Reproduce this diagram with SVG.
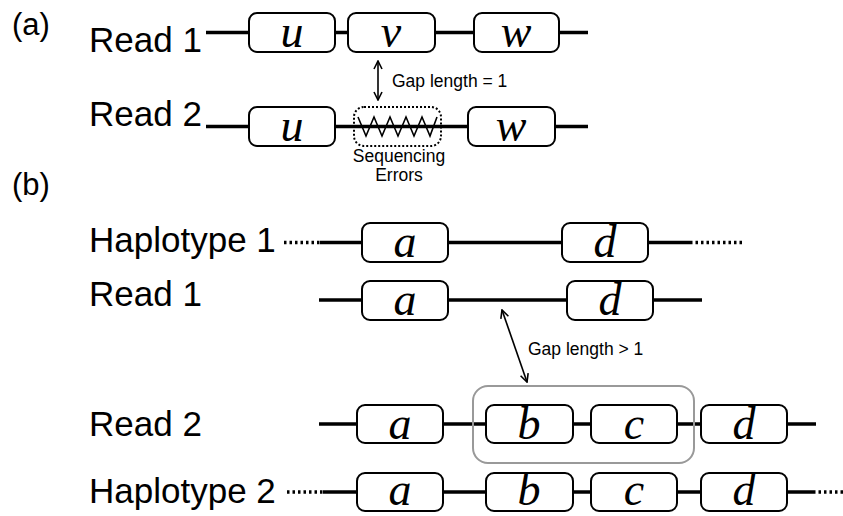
<svg xmlns="http://www.w3.org/2000/svg" width="843" height="516" viewBox="0 0 843 516">
  <style>
    .lbl { font-family: "Liberation Sans", Arial, sans-serif; fill: #000; }
    .big { font-size: 35px; }
    .panel { font-size: 31px; }
    .small { font-size: 17.5px; }
    .sym { font-family: "Liberation Serif", "Times New Roman", serif; font-style: italic; font-size: 46px; fill: #000; text-anchor: middle; }
    .seg { fill: #fff; stroke: #000; stroke-width: 2; }
    .wire { stroke: #000; stroke-width: 3.5; fill: none; }
    .dots { stroke: #000; stroke-width: 3.5; fill: none; stroke-dasharray: 2.5 3; }
    .thin { stroke: #000; stroke-width: 1.6; fill: none; }
  </style>
  <defs>
    <marker id="head" viewBox="0 0 10 10" refX="9" refY="5" markerWidth="10" markerHeight="10" markerUnits="userSpaceOnUse" orient="auto-start-reverse">
      <path d="M1,1 L9,5 L1,9" fill="none" stroke="#000" stroke-width="1.6"/>
    </marker>
  </defs>

  <rect width="843" height="516" fill="#fff"/>

  <!-- panel labels -->
  <text class="lbl panel" x="12" y="35">(a)</text>
  <text class="lbl panel" x="12" y="195">(b)</text>

  <!-- row labels -->
  <text class="lbl big" x="89" y="52">Read 1</text>
  <text class="lbl big" x="89" y="126">Read 2</text>
  <text class="lbl big" x="89" y="252">Haplotype 1</text>
  <text class="lbl big" x="89" y="306">Read 1</text>
  <text class="lbl big" x="89" y="436">Read 2</text>
  <text class="lbl big" x="89" y="503">Haplotype 2</text>

  <!-- connectors: backbone lines, gap arrows -->
  <g id="connectors">
    <!-- (a) Read 1 -->
    <line class="wire" x1="206" y1="32.5" x2="588" y2="32.5"/>
    <!-- (a) Read 2 -->
    <line class="wire" x1="206" y1="126.5" x2="588" y2="126.5"/>
    <!-- (b) Haplotype 1 -->
    <line class="dots" x1="284" y1="242.5" x2="322" y2="242.5"/>
    <line class="wire" x1="320" y1="242.5" x2="690" y2="242.5"/>
    <line class="dots" x1="690" y1="242.5" x2="742" y2="242.5"/>
    <!-- (b) Read 1 -->
    <line class="wire" x1="319" y1="300" x2="702" y2="300"/>
    <!-- (b) Read 2 -->
    <line class="wire" x1="319" y1="424" x2="816" y2="424"/>
    <!-- (b) Haplotype 2 -->
    <line class="dots" x1="287" y1="492" x2="325" y2="492"/>
    <line class="wire" x1="323" y1="492" x2="813" y2="492"/>
    <line class="dots" x1="813" y1="492" x2="843" y2="492"/>

    <!-- gap arrows -->
    <line class="thin" x1="378" y1="61" x2="378" y2="100" marker-start="url(#head)" marker-end="url(#head)"/>
    <line class="thin" x1="502" y1="310" x2="527" y2="382" marker-start="url(#head)" marker-end="url(#head)"/>
  </g>

  <!-- (a) Read 1 segments -->
  <g id="a-r1-u"><rect class="seg" x="249" y="13" width="86" height="39" rx="8"/><text class="sym" x="292" y="47">u</text></g>
  <g id="a-r1-v"><rect class="seg" x="348" y="13" width="87" height="39" rx="8"/><text class="sym" x="391" y="47">v</text></g>
  <g id="a-r1-w"><rect class="seg" x="474" y="13" width="85" height="39" rx="8"/><text class="sym" x="516" y="47">w</text></g>

  <!-- (a) Read 2 segments -->
  <g id="a-r2-u"><rect class="seg" x="249" y="107" width="86" height="39" rx="8"/><text class="sym" x="292" y="141">u</text></g>
  <g id="a-r2-err">
    <rect x="354" y="107" width="87" height="39" rx="10" fill="none" stroke="#000" stroke-width="2" stroke-dasharray="2 2"/>
    <path class="thin" d="M358,117 L366,136 L374,117 L382,136 L390,117 L398,136 L406,117 L414,136 L422,117 L430,136 L437,117"/>
    <text class="lbl small" x="399" y="162" text-anchor="middle">Sequencing</text>
    <text class="lbl small" x="399" y="181" text-anchor="middle">Errors</text>
  </g>
  <g id="a-r2-w"><rect class="seg" x="468" y="107" width="87" height="39" rx="8"/><text class="sym" x="511" y="141">w</text></g>
  <text class="lbl small" x="392" y="87">Gap length = 1</text>

  <!-- (b) Haplotype 1 segments -->
  <g id="h1-a"><rect class="seg" x="362" y="223" width="86" height="39" rx="8"/><text class="sym" x="405" y="257">a</text></g>
  <g id="h1-d"><rect class="seg" x="562" y="223" width="86" height="39" rx="8"/><text class="sym" x="605" y="257">d</text></g>

  <!-- (b) Read 1 segments -->
  <g id="b-r1-a"><rect class="seg" x="362" y="281" width="86" height="39" rx="8"/><text class="sym" x="405" y="315">a</text></g>
  <g id="b-r1-d"><rect class="seg" x="567" y="281" width="86" height="39" rx="8"/><text class="sym" x="610" y="315">d</text></g>

  <text class="lbl small" x="528" y="355">Gap length &gt; 1</text>

  <!-- (b) Read 2 segments, b and c grouped -->
  <g id="b-r2-group"><rect x="473" y="386" width="221" height="77" rx="15" fill="none" stroke="#999" stroke-width="2"/></g>
  <g id="b-r2-a"><rect class="seg" x="357" y="405" width="86" height="38" rx="8"/><text class="sym" x="400" y="439">a</text></g>
  <g id="b-r2-b"><rect class="seg" x="486" y="405" width="87" height="38" rx="8"/><text class="sym" x="529" y="439">b</text></g>
  <g id="b-r2-c"><rect class="seg" x="591" y="405" width="86" height="38" rx="8"/><text class="sym" x="634" y="439">c</text></g>
  <g id="b-r2-d"><rect class="seg" x="701" y="405" width="86" height="38" rx="8"/><text class="sym" x="744" y="439">d</text></g>

  <!-- (b) Haplotype 2 segments -->
  <g id="h2-a"><rect class="seg" x="357" y="473" width="86" height="38" rx="8"/><text class="sym" x="400" y="505">a</text></g>
  <g id="h2-b"><rect class="seg" x="486" y="473" width="87" height="38" rx="8"/><text class="sym" x="529" y="505">b</text></g>
  <g id="h2-c"><rect class="seg" x="591" y="473" width="86" height="38" rx="8"/><text class="sym" x="634" y="505">c</text></g>
  <g id="h2-d"><rect class="seg" x="701" y="473" width="86" height="38" rx="8"/><text class="sym" x="744" y="505">d</text></g>
</svg>
